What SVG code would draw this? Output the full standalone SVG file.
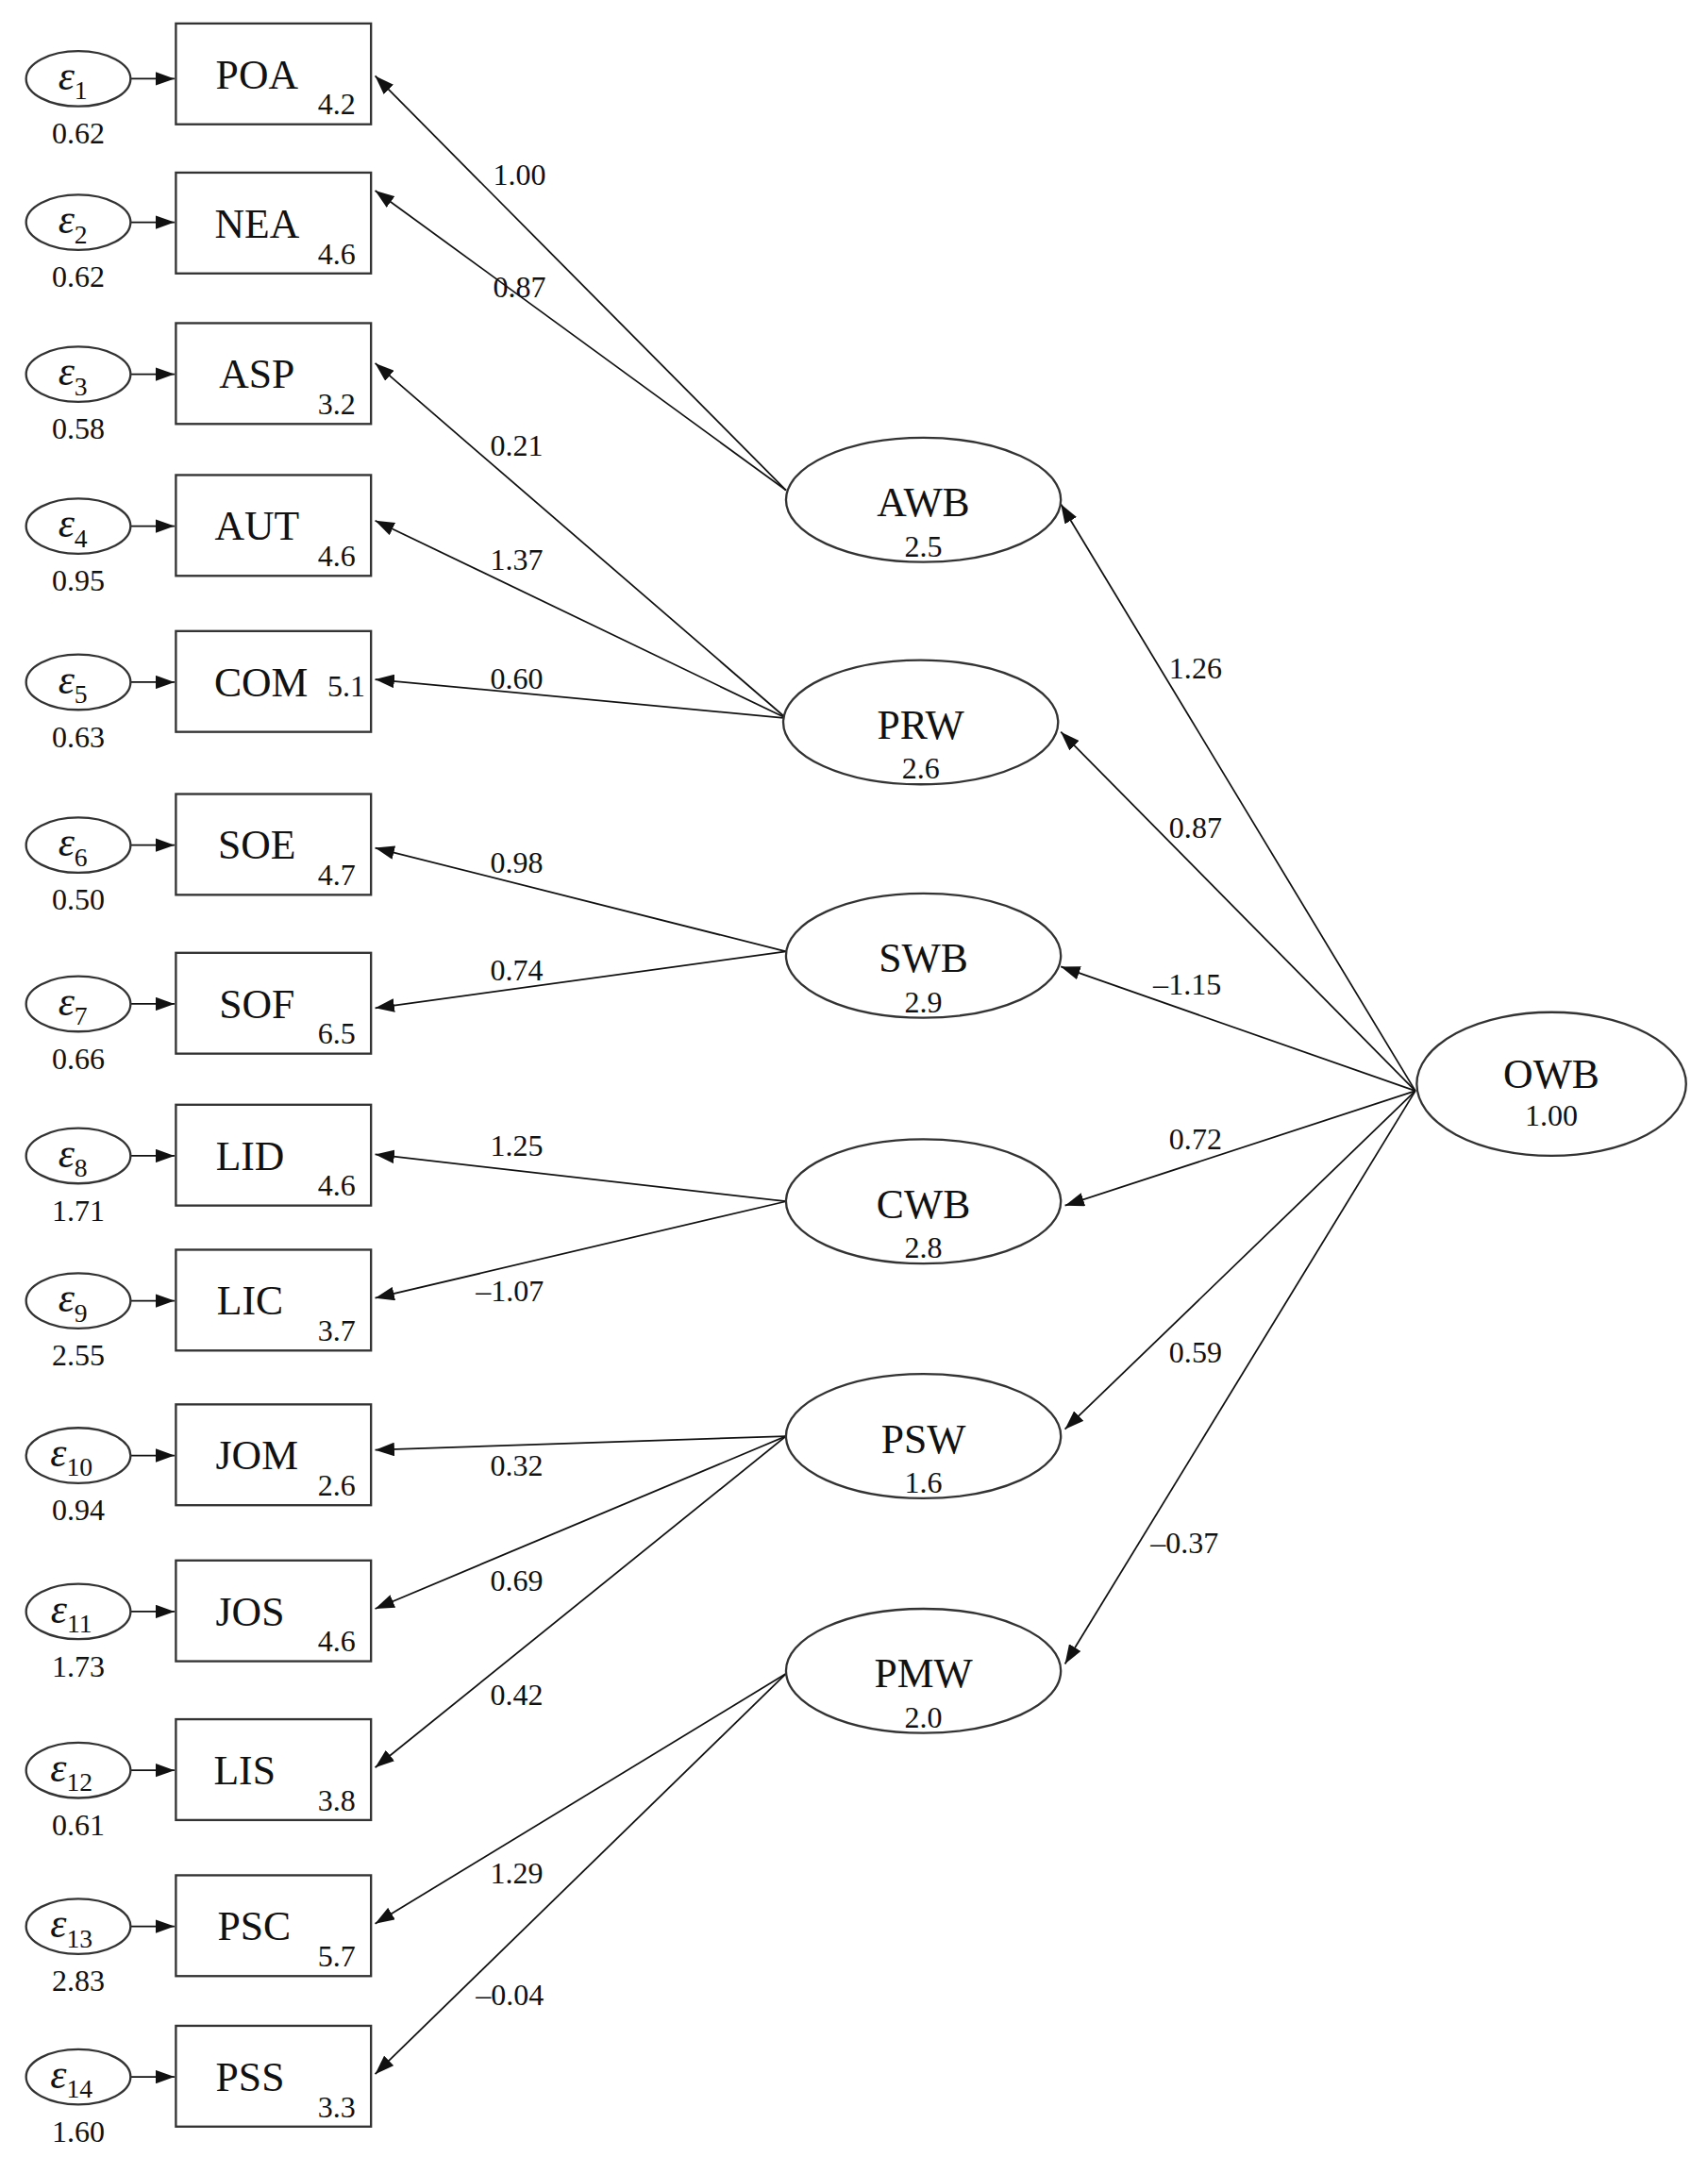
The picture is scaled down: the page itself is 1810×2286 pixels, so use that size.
<svg xmlns="http://www.w3.org/2000/svg" width="1810" height="2286" viewBox="0 0 1810 2286">
<style>
text{font-family:"Liberation Serif","Times New Roman",serif;fill:#111}
.n{font-size:30px;text-anchor:middle}
.v{font-size:22px;text-anchor:middle}
.l{font-size:22px;text-anchor:middle}
.e{font-size:30px;font-style:italic;text-anchor:middle}
.s{font-size:19px;font-style:normal}
rect,ellipse{fill:#fff;stroke:#333;stroke-width:1.6}
line{stroke:#111;stroke-width:1.2;marker-end:url(#a)}
</style>
<defs><marker id="a" viewBox="0 0 14 10" refX="14" refY="5" markerWidth="14" markerHeight="10" markerUnits="userSpaceOnUse" orient="auto"><path d="M0,0L14,5L0,10z" fill="#111"/></marker></defs>
<rect width="1810" height="2286" fill="#fff" style="stroke:none"/>
<g transform="scale(1.4562 1.4635)">
<g id="connectors">
<line x1="95" y1="57" x2="127" y2="57"/><line x1="95" y1="161" x2="127" y2="161"/><line x1="95" y1="271" x2="127" y2="271"/><line x1="95" y1="381" x2="127" y2="381"/><line x1="95" y1="494" x2="127" y2="494"/><line x1="95" y1="612" x2="127" y2="612"/><line x1="95" y1="727" x2="127" y2="727"/><line x1="95" y1="837" x2="127" y2="837"/><line x1="95" y1="942" x2="127" y2="942"/><line x1="95" y1="1054" x2="127" y2="1054"/><line x1="95" y1="1167" x2="127" y2="1167"/><line x1="95" y1="1282" x2="127" y2="1282"/><line x1="95" y1="1395" x2="127" y2="1395"/><line x1="95" y1="1504" x2="127" y2="1504"/>
<line x1="572" y1="355" x2="273" y2="55"/><line x1="572" y1="355" x2="273" y2="138"/>
<line x1="572" y1="520" x2="273" y2="263"/><line x1="572" y1="520" x2="273" y2="377"/><line x1="572" y1="520" x2="273" y2="492"/>
<line x1="572" y1="689" x2="273" y2="614"/><line x1="572" y1="689" x2="273" y2="730"/>
<line x1="572" y1="870" x2="273" y2="836"/><line x1="572" y1="870" x2="273" y2="940"/>
<line x1="572" y1="1040" x2="273" y2="1050"/><line x1="572" y1="1040" x2="273" y2="1165"/><line x1="572" y1="1040" x2="273" y2="1280"/>
<line x1="572" y1="1212" x2="273" y2="1393"/><line x1="572" y1="1212" x2="273" y2="1502"/>
<line x1="1030" y1="790" x2="772" y2="365"/><line x1="1030" y1="790" x2="772" y2="530"/><line x1="1030" y1="790" x2="772" y2="700"/><line x1="1030" y1="790" x2="775" y2="873"/><line x1="1030" y1="790" x2="775" y2="1035"/><line x1="1030" y1="790" x2="775" y2="1205"/>
</g>
<g class="l-labels">
<text class="l" x="378" y="134">1.00</text><text class="l" x="378" y="215">0.87</text><text class="l" x="376" y="330">0.21</text><text class="l" x="376" y="413">1.37</text><text class="l" x="376" y="499">0.60</text><text class="l" x="376" y="632">0.98</text><text class="l" x="376" y="710">0.74</text><text class="l" x="376" y="837">1.25</text><text class="l" x="371" y="942">–1.07</text><text class="l" x="376" y="1069">0.32</text><text class="l" x="376" y="1152">0.69</text><text class="l" x="376" y="1235">0.42</text><text class="l" x="376" y="1364">1.29</text><text class="l" x="371" y="1452">–0.04</text>
<text class="l" x="870" y="491">1.26</text><text class="l" x="870" y="607">0.87</text><text class="l" x="864" y="720">–1.15</text><text class="l" x="870" y="832">0.72</text><text class="l" x="870" y="987">0.59</text><text class="l" x="862" y="1125">–0.37</text>
</g>
<g id="POA"><ellipse cx="57" cy="57" rx="38" ry="20"/><text class="e" x="53" y="65">ε<tspan class="s" dy="7">1</tspan></text><text class="v" x="57" y="104">0.62</text><rect x="128" y="17" width="142" height="73"/><text class="n" x="187" y="64">POA</text><text class="v" x="245" y="83">4.2</text></g>
<g id="NEA"><ellipse cx="57" cy="161" rx="38" ry="20"/><text class="e" x="53" y="169">ε<tspan class="s" dy="7">2</tspan></text><text class="v" x="57" y="208">0.62</text><rect x="128" y="125" width="142" height="73"/><text class="n" x="187" y="172">NEA</text><text class="v" x="245" y="191">4.6</text></g>
<g id="ASP"><ellipse cx="57" cy="271" rx="38" ry="20"/><text class="e" x="53" y="279">ε<tspan class="s" dy="7">3</tspan></text><text class="v" x="57" y="318">0.58</text><rect x="128" y="234" width="142" height="73"/><text class="n" x="187" y="281">ASP</text><text class="v" x="245" y="300">3.2</text></g>
<g id="AUT"><ellipse cx="57" cy="381" rx="38" ry="20"/><text class="e" x="53" y="389">ε<tspan class="s" dy="7">4</tspan></text><text class="v" x="57" y="428">0.95</text><rect x="128" y="344" width="142" height="73"/><text class="n" x="187" y="391">AUT</text><text class="v" x="245" y="410">4.6</text></g>
<g id="COM"><ellipse cx="57" cy="494" rx="38" ry="20"/><text class="e" x="53" y="502">ε<tspan class="s" dy="7">5</tspan></text><text class="v" x="57" y="541">0.63</text><rect x="128" y="457" width="142" height="73"/><text class="n" x="190" y="504">COM</text><text class="v" x="252" y="504">5.1</text></g>
<g id="SOE"><ellipse cx="57" cy="612" rx="38" ry="20"/><text class="e" x="53" y="620">ε<tspan class="s" dy="7">6</tspan></text><text class="v" x="57" y="659">0.50</text><rect x="128" y="575" width="142" height="73"/><text class="n" x="187" y="622">SOE</text><text class="v" x="245" y="641">4.7</text></g>
<g id="SOF"><ellipse cx="57" cy="727" rx="38" ry="20"/><text class="e" x="53" y="735">ε<tspan class="s" dy="7">7</tspan></text><text class="v" x="57" y="774">0.66</text><rect x="128" y="690" width="142" height="73"/><text class="n" x="187" y="737">SOF</text><text class="v" x="245" y="756">6.5</text></g>
<g id="LID"><ellipse cx="57" cy="837" rx="38" ry="20"/><text class="e" x="53" y="845">ε<tspan class="s" dy="7">8</tspan></text><text class="v" x="57" y="884">1.71</text><rect x="128" y="800" width="142" height="73"/><text class="n" x="182" y="847">LID</text><text class="v" x="245" y="866">4.6</text></g>
<g id="LIC"><ellipse cx="57" cy="942" rx="38" ry="20"/><text class="e" x="53" y="950">ε<tspan class="s" dy="7">9</tspan></text><text class="v" x="57" y="989">2.55</text><rect x="128" y="905" width="142" height="73"/><text class="n" x="182" y="952">LIC</text><text class="v" x="245" y="971">3.7</text></g>
<g id="JOM"><ellipse cx="57" cy="1054" rx="38" ry="20"/><text class="e" x="52" y="1062">ε<tspan class="s" dy="7">10</tspan></text><text class="v" x="57" y="1101">0.94</text><rect x="128" y="1017" width="142" height="73"/><text class="n" x="187" y="1064">JOM</text><text class="v" x="245" y="1083">2.6</text></g>
<g id="JOS"><ellipse cx="57" cy="1167" rx="38" ry="20"/><text class="e" x="52" y="1175">ε<tspan class="s" dy="7">11</tspan></text><text class="v" x="57" y="1214">1.73</text><rect x="128" y="1130" width="142" height="73"/><text class="n" x="182" y="1177">JOS</text><text class="v" x="245" y="1196">4.6</text></g>
<g id="LIS"><ellipse cx="57" cy="1282" rx="38" ry="20"/><text class="e" x="52" y="1290">ε<tspan class="s" dy="7">12</tspan></text><text class="v" x="57" y="1329">0.61</text><rect x="128" y="1245" width="142" height="73"/><text class="n" x="178" y="1292">LIS</text><text class="v" x="245" y="1311">3.8</text></g>
<g id="PSC"><ellipse cx="57" cy="1395" rx="38" ry="20"/><text class="e" x="52" y="1403">ε<tspan class="s" dy="7">13</tspan></text><text class="v" x="57" y="1442">2.83</text><rect x="128" y="1358" width="142" height="73"/><text class="n" x="185" y="1405">PSC</text><text class="v" x="245" y="1424">5.7</text></g>
<g id="PSS"><ellipse cx="57" cy="1504" rx="38" ry="20"/><text class="e" x="52" y="1512">ε<tspan class="s" dy="7">14</tspan></text><text class="v" x="57" y="1551">1.60</text><rect x="128" y="1467" width="142" height="73"/><text class="n" x="182" y="1514">PSS</text><text class="v" x="245" y="1533">3.3</text></g>
<g id="AWB"><ellipse cx="672" cy="362" rx="100" ry="45"/><text class="n" x="672" y="374">AWB</text><text class="v" x="672" y="403">2.5</text></g>
<g id="PRW"><ellipse cx="670" cy="523" rx="100" ry="45"/><text class="n" x="670" y="535">PRW</text><text class="v" x="670" y="564">2.6</text></g>
<g id="SWB"><ellipse cx="672" cy="692" rx="100" ry="45"/><text class="n" x="672" y="704">SWB</text><text class="v" x="672" y="733">2.9</text></g>
<g id="CWB"><ellipse cx="672" cy="870" rx="100" ry="45"/><text class="n" x="672" y="882">CWB</text><text class="v" x="672" y="911">2.8</text></g>
<g id="PSW"><ellipse cx="672" cy="1040" rx="100" ry="45"/><text class="n" x="672" y="1052">PSW</text><text class="v" x="672" y="1081">1.6</text></g>
<g id="PMW"><ellipse cx="672" cy="1210" rx="100" ry="45"/><text class="n" x="672" y="1222">PMW</text><text class="v" x="672" y="1251">2.0</text></g>
<g id="OWB"><ellipse cx="1129" cy="785" rx="98" ry="52"/><text class="n" x="1129" y="788">OWB</text><text class="v" x="1129" y="815">1.00</text></g>
</g>
</svg>
